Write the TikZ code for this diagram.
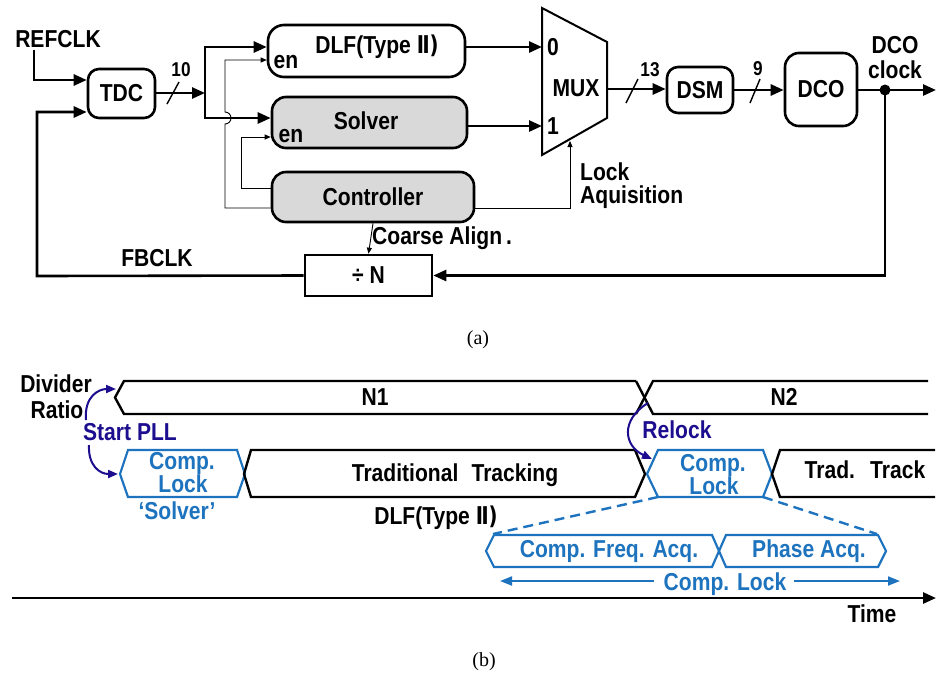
\documentclass[tikz,border=0pt]{standalone}
\usepackage{fontspec}
\setmainfont{Liberation Sans}[FakeStretch=0.86]
\newfontfamily\capfont{Liberation Serif}
\newfontfamily\numfont{DejaVu Sans}[FakeStretch=0.8]
\usetikzlibrary{arrows.meta}

\definecolor{tblue}{HTML}{1E73BE}
\definecolor{navy}{HTML}{1C0E8E}
\definecolor{boxgray}{HTML}{D9D9D9}

\newcommand\lbl{\fontsize{24.5}{25}\selectfont\bfseries}
\newcommand\sml{\fontsize{20}{21}\selectfont\bfseries}

\tikzset{
  blk/.style={draw, line width=2.6pt, rounded corners=11pt, inner sep=0pt, font=\lbl},
  wire/.style={line width=2.6pt, -{Triangle[length=13pt,width=11pt]}},
  bare/.style={line width=2.6pt},
  thinw/.style={line width=0.9pt, -{Triangle[length=6pt,width=5pt]}},
  slash/.style={line width=1.4pt},
  txt/.style={font=\lbl, inner sep=0pt},
  bus/.style={line width=2.4pt, line join=miter},
  bbus/.style={line width=2.2pt, draw=tblue, line join=miter},
  curv/.style={line width=2pt, navy, -{Triangle[length=10pt,width=8pt]}},
  barrow/.style={line width=2pt, tblue, -{Triangle[length=12pt,width=9pt]}}
}

\begin{document}
\begin{tikzpicture}[x=1pt,y=-1pt]
\useasboundingbox (0,0) rectangle (936,681);

% ---------------- (a) block diagram ----------------
\node[txt] (ref) at (58,39) {REFCLK};
\node[blk, minimum width=67pt, minimum height=49pt] (tdc) at (121.5,93.5) {TDC};
\node[blk, rounded corners=16pt, minimum width=197pt, minimum height=52pt] (dlf) at (366.5,51) {};
\node[txt] at (377,47) {DLF(Type \numfont\bfseries Ⅱ)};
\node[txt] at (286,62) {en};
\node[blk, rounded corners=14pt, fill=boxgray, minimum width=195pt, minimum height=51pt] (solver) at (369.5,122.5) {};
\node[txt] at (366,121) {Solver};
\node[txt] at (291,136) {en};
\node[blk, rounded corners=14pt, fill=boxgray, minimum width=202pt, minimum height=50pt] (ctrl) at (373,197) {Controller};
\node[draw, line width=2.6pt, minimum width=127pt, minimum height=41pt, inner sep=0pt, font=\lbl] (div) at (368.5,275.5) {÷ N};
\node[blk, minimum width=66pt, minimum height=46pt] (dsm) at (700,90) {DSM};
\node[blk, rounded corners=14pt, minimum width=72pt, minimum height=73pt] (dco) at (821,89.5) {DCO};

% multiplexer
\draw[line width=2pt, line join=miter] (542,8) -- (607,42) -- (607,118) -- (542,155) -- cycle;
\node[txt] (mux) at (576,88) {MUX};
\node[txt] at (553,47) {0};
\node[txt] at (553,126) {1};
\coordinate (min0) at (542,47);
\coordinate (min1) at (542,126);
\coordinate (mout) at (607,89);
\coordinate (msel) at (570,141);

% reference and TDC output bus
\coordinate (refc) at (34,50);
\draw[wire] (refc) |- (tdc.west |- 0,80);
\coordinate (bus) at (205,93);
\coordinate (bt) at (205,47);
\coordinate (bb) at (205,118);
\draw[wire] (tdc.east |- bus) -- (bus);
\draw[bare, line cap=rect] (bt) -- (bb);
\draw[wire] (bt) -- (dlf.west |- bt);
\draw[wire] (bb) -- (solver.west |- bb);
\draw[slash] (167,104) -- (179,82);
\node[font=\sml, inner sep=0pt] at (181,70) {10};

% enable wires from the controller
\coordinate (e1) at (225,208);
\coordinate (e2) at (241,188);
\draw[thinw] (ctrl.west |- e1) -- (e1) -- (225,124) arc[start angle=-90, end angle=90, radius=6pt] -- (225,60) -- (dlf.west |- 0,60);
\draw[thinw] (ctrl.west |- e2) -- (e2) -- (241,137) -- (solver.west |- 0,137);

% data path to the DCO
\draw[wire] (dlf.east |- min0) -- (min0);
\draw[wire] (solver.east |- min1) -- (min1);
\draw[thinw] (ctrl.east |- 0,208) -| (msel);
\node[txt, anchor=west] at (580,172) {Lock};
\node[txt, anchor=west] at (580,197) {Aquisition};
\draw[wire] (mout) -- (dsm.west |- mout);
\draw[slash] (626,103) -- (638,79);
\node[font=\sml, inner sep=0pt] at (650,70) {13};
\draw[wire] (dsm.east) -- (dco.west |- dsm.east);
\draw[slash] (750,103) -- (760,79);
\node[font=\sml, inner sep=0pt] at (758,69) {9};
\coordinate (tap) at (885,90);
\coordinate (outc) at (936,90);
\draw[wire] (dco.east |- tap) -- (outc);
\fill (tap) circle (5.5pt);
\node[txt] at (895,45) {DCO};
\node[txt] at (895,70) {clock};

% feedback path
\draw[wire] (tap) |- (div.east);
\coordinate (fbl) at (37,276);
\draw[wire] (div.west) -- (fbl) |- (tdc.west |- 0,112);
\node[txt] at (157,258) {FBCLK};
\draw[thinw] (ctrl.south) -- (div.north);
\node[txt, anchor=west] at (372,238) {Coarse Align\,.};

\node[font=\capfont\fontsize{20}{22}\selectfont] at (478,340) {(a)};

% ---------------- (b) timing diagram ----------------
\node[txt] at (56,384) {Divider};
\node[txt] at (57,410) {Ratio};
\draw[bus] (636,381) -- (124,381) -- (115,397.5) -- (124,414) -- (636,414);
\draw[bus] (636,381) -- (653,414) -- (928,414);
\draw[bus] (636,414) -- (653,381) -- (928,381);
\node[txt] at (375,397) {N1};
\node[txt] at (784,397) {N2};

% second row
\draw[bbus] (128,450) -- (237,450) -- (245,474) -- (237,497) -- (128,497) -- (120,474) -- cycle;
\draw[bus] (251,450) -- (635,450) -- (645,474) -- (635,497) -- (251,497) -- (244,474) -- cycle;
\draw[bbus] (658,450) -- (763,450) -- (772,474) -- (763,497) -- (658,497) -- (647,474) -- cycle;
\draw[bus] (935,450) -- (780,450) -- (772,474) -- (780,497) -- (935,497);

\node[txt, text=tblue] at (182,463) {Comp.};
\node[txt, text=tblue] at (183,484) {Lock};
\node[txt, text=tblue] at (177,511) {‘Solver’};
\node[txt] at (455,475) {Traditional\hspace{0.3em} Tracking};
\node[txt] at (436,518) {DLF(Type \numfont\bfseries Ⅱ)};
\node[txt, text=tblue] at (713,465) {Comp.};
\node[txt, text=tblue] at (714,486) {Lock};
\node[txt] at (865,470) {Trad.\hspace{0.3em} Track};

% start and relock events
\node[txt, text=navy] at (130,432) {Start PLL};
\draw[curv] (86,420) .. controls (84,396) and (99,389) .. (116,389);
\draw[curv] (89,445) .. controls (88,466) and (100,474) .. (118,474);
\node[txt, text=navy] at (677,430) {Relock};
\draw[curv] (648,403) .. controls (620,420) and (624,446) .. (652,459);

% zoomed composite lock
\draw[tblue, line width=2.4pt, dash pattern=on 10pt off 6pt] (658,497) -- (493,534);
\draw[tblue, line width=2.4pt, dash pattern=on 10pt off 6pt] (763,497) -- (877,534);
\draw[bbus] (494,535) -- (712,535) -- (719,551) -- (712,567) -- (494,567) -- (486,551) -- cycle;
\draw[bbus] (726,535) -- (878,535) -- (886,551) -- (878,567) -- (726,567) -- (719,551) -- cycle;
\node[txt, text=tblue] at (609,551) {Comp. Freq. Acq.};
\node[txt, text=tblue] at (809,551) {Phase Acq.};
\node[txt, text=tblue] (cl) at (725,584) {Comp. Lock};
\coordinate (cla) at (500,581);
\coordinate (clb) at (900,581);
\draw[barrow] (cl.west |- cla) ++(-10pt,0) -- (cla);
\draw[barrow] (cl.east |- clb) ++(8pt,0) -- (clb);

% time axis
\coordinate (t0) at (12,598);
\coordinate (t1) at (936,598);
\draw[wire] (t0) -- (t1);
\node[txt] at (872,614) {Time};

\node[font=\capfont\fontsize{20}{22}\selectfont] at (484,662) {(b)};
\end{tikzpicture}
\end{document}
